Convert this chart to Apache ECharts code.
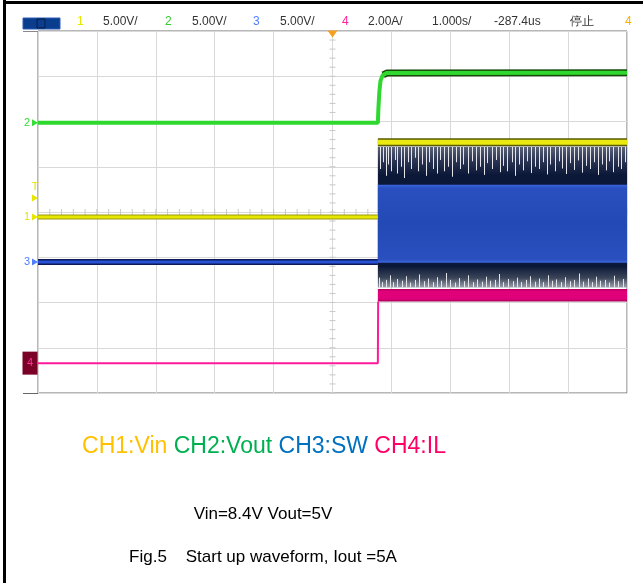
<!DOCTYPE html>
<html><head><meta charset="utf-8">
<script src="https://cdn.jsdelivr.net/npm/echarts@6/dist/echarts.min.js"></script>
<style>html,body{margin:0;padding:0;background:#fff;}#c{width:643px;height:583px;}</style>
</head><body><div id="c"></div>
<script>
// ---- time axis: divisions (1.000s/div), trigger at 0
const xDivs = [-5, 5];
const yDivs = [-4, 4];
// ---- channel levels (divisions)
const ch2Vout = [[-5,1.97],[0.77,1.97],[0.78,2.3],[0.795,2.65],[0.815,2.9],[0.85,3.02],[0.92,3.07],[5,3.08]];
const ch2After = [[0.86,3.03],[0.92,3.07],[5,3.08]];
const ch1VinBefore = [[-5,-0.11],[0.77,-0.11]];
const ch1VinAfter = [[0.77,1.54],[5,1.54]];
const ch3SwBefore = [[-5,-1.105],[0.77,-1.105]];
const ch4IlBefore = [[-5,-3.34],[0.77,-3.34],[0.775,-1.98]];
// bands after start-up: [t0, t1, low, high]
const swNoiseBand = [[0.77,5,-1.67,1.44]];
const swBand = [[0.77,5,-1.12,0.6]];
const ilBand = [[0.77,5,-1.98,-1.7]];
// switching-noise spikes: [time, tip level]
const topSpikes = [[0.80,0.95],[0.86,1.1],[0.9,0.8],[0.95,1.05],[1.0,0.9],[1.06,1.15],[1.1,0.85],[1.16,1.0],[1.22,0.75],[1.28,1.1],[1.33,0.95],[1.4,1.2],[1.46,0.9],[1.52,1.05],[1.58,0.8],[1.64,1.1],[1.7,0.95],[1.77,0.85],[1.83,1.15],[1.9,0.9],[1.96,1.0],[2.03,0.78],[2.1,1.1],[2.16,0.95],[2.22,1.05],[2.3,0.85],[2.36,1.12],[2.43,0.92],[2.5,1.0],[2.57,0.82],[2.63,1.08],[2.7,0.95],[2.77,1.15],[2.84,0.88],[2.9,1.02],[2.97,0.9],[3.04,1.1],[3.1,0.8],[3.17,1.05],[3.24,0.92],[3.3,1.12],[3.37,0.86],[3.44,1.0],[3.5,0.95],[3.57,1.1],[3.64,0.83],[3.7,1.05],[3.77,0.9],[3.84,1.12],[3.9,0.96],[3.97,0.84],[4.04,1.08],[4.1,0.93],[4.17,1.14],[4.24,0.87],[4.3,1.02],[4.37,0.95],[4.44,1.1],[4.5,0.82],[4.57,1.05],[4.64,0.92],[4.7,1.12],[4.77,0.88],[4.84,1.0],[4.9,0.95],[4.96,1.1]];
const bottomSpikes = [[0.79,-1.45],[0.84,-1.55],[0.9,-1.5],[0.97,-1.4],[1.03,-1.55],[1.1,-1.48],[1.18,-1.52],[1.25,-1.42],[1.32,-1.56],[1.4,-1.5],[1.47,-1.38],[1.55,-1.53],[1.62,-1.47],[1.7,-1.55],[1.78,-1.44],[1.85,-1.52],[1.93,-1.35],[2.0,-1.5],[2.08,-1.56],[2.15,-1.46],[2.23,-1.53],[2.3,-1.4],[2.38,-1.55],[2.46,-1.49],[2.53,-1.54],[2.6,-1.43],[2.68,-1.52],[2.76,-1.5],[2.83,-1.37],[2.9,-1.55],[2.98,-1.48],[3.06,-1.53],[3.13,-1.45],[3.2,-1.55],[3.28,-1.5],[3.35,-1.42],[3.43,-1.54],[3.5,-1.47],[3.58,-1.55],[3.66,-1.4],[3.73,-1.52],[3.8,-1.49],[3.88,-1.55],[3.95,-1.44],[4.03,-1.53],[4.1,-1.5],[4.18,-1.36],[4.25,-1.54],[4.33,-1.47],[4.4,-1.55],[4.48,-1.43],[4.55,-1.52],[4.63,-1.5],[4.7,-1.56],[4.78,-1.41],[4.85,-1.53],[4.93,-1.48]];
// channel marker levels
const markers = {ch1:-0.11, ch2:1.97, ch3:-1.105, ch4:-3.34, trig:0.31};
// header texts
const header = [
  {t:'1', c:'#e6e600', x:77},{t:'5.00V/', c:'#333', x:103},
  {t:'2', c:'#33cc33', x:165},{t:'5.00V/', c:'#333', x:192},
  {t:'3', c:'#4f7fff', x:253},{t:'5.00V/', c:'#333', x:280},
  {t:'4', c:'#ff2299', x:342},{t:'2.00A/', c:'#333', x:368},
  {t:'1.000s/', c:'#333', x:432},{t:'-287.4us', c:'#333', x:494},
  {t:'停止', c:'#333', x:570},{t:'4', c:'#f0b400', x:625}
];
const captionParts = [
  {t:'CH1:Vin', c:'#ffc000'},{t:'CH2:Vout', c:'#00b050'},
  {t:'CH3:SW', c:'#0070c0'},{t:'CH4:IL', c:'#ff0066'}
];
const subCaption = 'Vin=8.4V Vout=5V';
const figCaption = 'Fig.5    Start up waveform, Iout =5A';

function band(fill){
  return function(params, api){
    const p0 = api.coord([api.value(0), api.value(3)]);
    const p1 = api.coord([api.value(1), api.value(2)]);
    return {type:'rect', shape:{x:p0[0], y:p0[1], width:p1[0]-p0[0], height:p1[1]-p0[1]}, style:{fill:fill}};
  };
}
function spikes(base, color){
  return function(params, api){
    const a = api.coord([api.value(0), base]);
    const b = api.coord([api.value(0), api.value(1)]);
    const x = Math.round(a[0]) + 0.5;
    return {type:'line', shape:{x1:x, y1:a[1], x2:x, y2:b[1]}, style:{stroke:color, lineWidth:1}};
  };
}
function graticule(params, api){
  const children = [];
  for (let i = Math.round(yDivs[0]*5); i <= Math.round(yDivs[1]*5); i++) {
    const p = api.coord([0, i/5]);
    children.push({type:'line', shape:{x1:p[0]-3,y1:p[1],x2:p[0]+3,y2:p[1]}, style:{stroke:'#c8c8c8', lineWidth:1}});
  }
  for (let i = Math.round(xDivs[0]*5); i <= Math.round(xDivs[1]*5); i++) {
    const p = api.coord([i/5, 0]);
    children.push({type:'line', shape:{x1:p[0],y1:p[1]-3,x2:p[0],y2:p[1]+3}, style:{stroke:'#c8c8c8', lineWidth:1}});
  }
  return {type:'group', children:children};
}
function mk(level, label, color, extra){
  return Object.assign({coord:[xDivs[0], level], symbol:'triangle', symbolRotate:-90, symbolSize:[7,6], symbolOffset:[-3,0],
    itemStyle:{color:color}, label:{show:true, formatter:label, position:'left', distance:2, color:color, fontSize:11, fontFamily:'Liberation Sans'}}, extra||{});
}

const chart = echarts.init(document.getElementById('c'), null, {renderer:'canvas'});
const capRich = {};
captionParts.forEach((p,i)=>{ capRich['p'+i] = {fill:p.c, font:'23px "Liberation Sans"'}; });
const capText = captionParts.map((p,i)=>'{p'+i+'|'+p.t+'}').join('{p0| }');

const graphics = [
  {type:'rect', shape:{x:3,y:0,width:3,height:583}, style:{fill:'#000'}},
  {type:'rect', shape:{x:3,y:1,width:640,height:3}, style:{fill:'#000'}},
  {type:'line', shape:{x1:23,y1:31.5,x2:38,y2:31.5}, style:{stroke:'#888',lineWidth:1}},
  {type:'line', shape:{x1:23,y1:393.5,x2:38,y2:393.5}, style:{stroke:'#666',lineWidth:1}},
  {type:'rect', shape:{x:23,y:18,width:37,height:11}, style:{fill:'#0b3d8f', stroke:'#2b5cb8', lineWidth:1}},
  {type:'rect', shape:{x:37,y:19,width:8,height:9}, style:{fill:'none', stroke:'#061c44', lineWidth:1}},
  {type:'text', style:{text:capText, rich:capRich, x:264, y:447, align:'center', verticalAlign:'middle'}},
  {type:'text', style:{text:subCaption, x:263, y:514, align:'center', verticalAlign:'middle', fill:'#000', font:'17px "Liberation Sans"'}},
  {type:'text', style:{text:figCaption, x:263, y:557, align:'center', verticalAlign:'middle', fill:'#000', font:'17px "Liberation Sans"'}}
];
header.forEach(h=>graphics.push({type:'text', style:{text:h.t, x:h.x, y:22, verticalAlign:'middle', fill:h.c, font:'12px "Liberation Sans"'}}));

chart.setOption({
  animation:false,
  backgroundColor:'#fff',
  grid:{left:38, top:31, width:589, height:362, show:true, borderColor:'#6e6e6e', borderWidth:1, backgroundColor:'#fff'},
  xAxis:{type:'value', min:xDivs[0], max:xDivs[1], interval:1, axisLabel:{show:false}, axisTick:{show:false},
    axisLine:{show:false}, splitLine:{show:true, lineStyle:{color:'#d9d9d9', width:1}}},
  yAxis:{type:'value', min:yDivs[0], max:yDivs[1], interval:1, axisLabel:{show:false}, axisTick:{show:false},
    axisLine:{show:false}, splitLine:{show:true, lineStyle:{color:'#d9d9d9', width:1}}},
  graphic:graphics,
  series:[
    {type:'custom', name:'grat', renderItem:graticule, data:[[0,0]], silent:true, z:1},
    {type:'custom', name:'swNoise', renderItem:band({type:'linear',x:0,y:0,x2:0,y2:1,colorStops:[
        {offset:0,color:'#5a6276'},{offset:0.1,color:'#2a3452'},{offset:0.2,color:'#0c1838'},
        {offset:0.85,color:'#0c1838'},{offset:0.93,color:'#3a4458'},{offset:1,color:'#9aa0ac'}]}),
      data:swNoiseBand, encode:{x:[0,1], y:[2,3]}, clip:true, z:2},
    {type:'custom', name:'topSpk', renderItem:spikes(swNoiseBand[0][3], '#e4e6ec'), data:topSpikes, encode:{x:0, y:1}, clip:true, z:2},
    {type:'custom', name:'botSpk', renderItem:spikes(swNoiseBand[0][2], '#e4e6ec'), data:bottomSpikes, encode:{x:0, y:1}, clip:true, z:2},
    {type:'custom', name:'sw', renderItem:band({type:'linear',x:0,y:0,x2:0,y2:1,colorStops:[
        {offset:0,color:'#3a66e0'},{offset:0.04,color:'#2a50c0'},{offset:0.5,color:'#2349b5'},{offset:0.96,color:'#2a50c0'},{offset:1,color:'#3a66e0'}]}),
      data:swBand, encode:{x:[0,1], y:[2,3]}, clip:true, z:3},
    {type:'line', name:'CH3 shadow', data:ch3SwBefore, showSymbol:false, lineStyle:{color:'#0d1a55', width:6}, z:4},
    {type:'line', name:'CH3', data:ch3SwBefore, showSymbol:false, lineStyle:{color:'#2752d6', width:3}, z:5,
      markPoint:{data:[mk(markers.ch3,'3','#4f7fff')]}},
    {type:'line', name:'CH1 shadow', data:ch1VinAfter, showSymbol:false, lineStyle:{color:'#5a5a00', width:8}, z:6},
    {type:'line', name:'CH1a', data:ch1VinAfter, showSymbol:false, lineStyle:{color:'#eaea10', width:5}, z:7},
    {type:'line', name:'CH1b shadow', data:ch1VinBefore, showSymbol:false, lineStyle:{color:'#9a9a10', width:5}, z:6},
    {type:'line', name:'CH1', data:ch1VinBefore, showSymbol:false, lineStyle:{color:'#e6e600', width:3}, z:7,
      markPoint:{data:[mk(markers.ch1,'1','#e6e600'), mk(markers.trig,'T','#e6e600',{label:{show:true,formatter:'T',position:'top',distance:2,color:'#e6e600',fontSize:11}})]}},
    {type:'custom', name:'il', renderItem:band({type:'linear',x:0,y:0,x2:0,y2:1,colorStops:[
        {offset:0,color:'#b0005a'},{offset:0.2,color:'#e0007a'},{offset:0.8,color:'#e0007a'},{offset:1,color:'#a00050'}]}),
      data:ilBand, encode:{x:[0,1], y:[2,3]}, clip:true, z:8},
    {type:'line', name:'CH4', data:ch4IlBefore, showSymbol:false, lineStyle:{color:'#ff1a9c', width:2}, z:8,
      markPoint:{data:[mk(markers.ch4,'4','#ff3399',{symbol:'rect', symbolRotate:0, symbolSize:[15,23], symbolOffset:[-8,0], itemStyle:{color:'#7a0026'}, label:{show:true, formatter:'4', position:'inside', color:'#ff3399', fontSize:11}})]}},
    {type:'line', name:'CH2 shadow', data:ch2After, showSymbol:false, lineStyle:{color:'#1a4a0a', width:7}, z:9},
    {type:'line', name:'CH2', data:ch2Vout, showSymbol:false, lineStyle:{color:'#2ed82e', width:4}, z:10,
      markPoint:{data:[mk(markers.ch2,'2','#33dd33'),
        {coord:[0, yDivs[1]], symbol:'triangle', symbolRotate:180, symbolSize:[10,7], symbolOffset:[0,3], itemStyle:{color:'#f5a020'}, label:{show:false}}]}}
  ]
});
</script></body></html>
